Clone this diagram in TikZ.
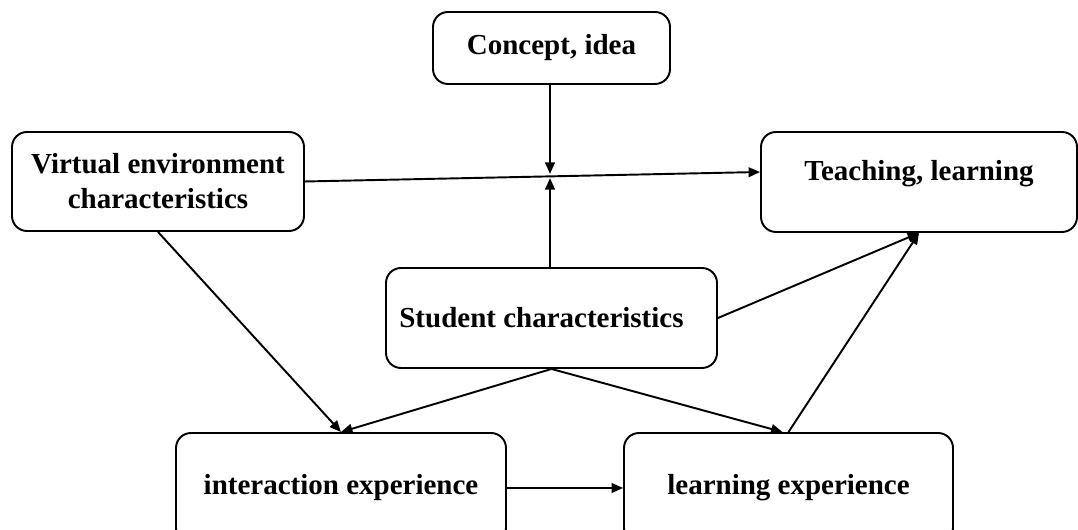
\documentclass[tikz,border=0pt]{standalone}
\usepackage{fontspec}
\setmainfont{Liberation Serif}
\usetikzlibrary{arrows.meta}

\begin{document}
\begin{tikzpicture}[
    box/.style={draw, line width=1.1pt, rounded corners=0.3cm, align=center,
        font=\fontsize{16.5}{20}\selectfont\bfseries},
    arr/.style={line width=1.1pt, -{Triangle[length=6.5pt,width=5.5pt]}}
]
\useasboundingbox (0,0) rectangle (21.56,10.6);

\node[box, minimum width=4.74cm, minimum height=1.44cm] (concept) at (11.03, 9.64) {Concept, idea};
\node[box, minimum width=5.84cm, minimum height=1.98cm] (virtual) at (3.16, 6.97) {Virtual environment\\characteristics};
\node[box, minimum width=6.32cm, minimum height=2.0cm, text depth=0.45cm] (teaching) at (18.38, 6.96) {Teaching, learning};
\node[box, minimum width=6.62cm, minimum height=2.0cm] (student) at (11.03, 4.24) {\hspace*{-0.4cm}Student characteristics};
\node[box, minimum width=6.6cm, minimum height=2.2cm] (interaction) at (6.82, 0.84) {interaction experience};
\node[box, minimum width=6.58cm, minimum height=2.2cm] (learning) at (15.77, 0.84) {learning experience};

\coordinate (cross) at (11.0, 7.08);

\draw[arr] (virtual.east) -- ([yshift=0.2cm]teaching.west);
\draw[arr, shorten >=1.2pt] (concept.south -| cross) -- (cross);
\draw[arr, shorten >=1.2pt] (student.north -| cross) -- (cross);

\draw[arr] (virtual.south) -- (interaction.north);
\draw[arr] (student.south) -- (interaction.north);
\draw[arr] (student.south) -- ([xshift=-0.12cm]learning.north);
\draw[arr] (student.east) -- (teaching.south);
\draw[arr] (learning.north) -- (teaching.south);
\draw[arr] (interaction.east) -- (learning.west);

\end{tikzpicture}
\end{document}
